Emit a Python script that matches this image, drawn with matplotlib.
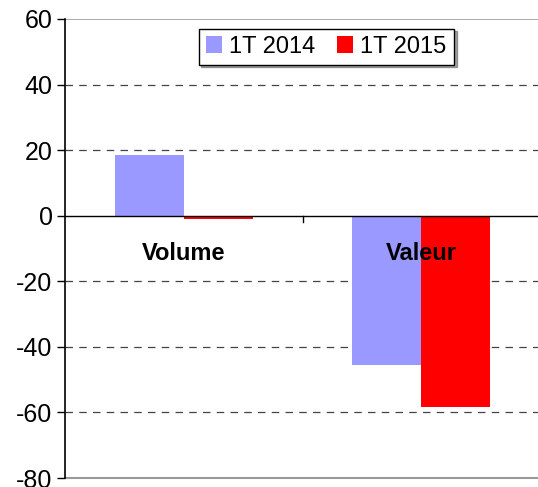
import matplotlib.pyplot as plt
import numpy as np

plt.rcParams['font.family'] = ['Liberation Sans', 'DejaVu Sans']
plt.rcParams['axes.unicode_minus'] = False

categories = ['Volume', 'Valeur']
series_names = ['1T 2014', '1T 2015']
vals_2014 = [18.6, -45.5]
vals_2015 = [-1.0, -58.2]
colors = ['#9999ff', '#ff0000']
yticks = [60, 40, 20, 0, -20, -40, -60, -80]

fig = plt.figure(figsize=(5.38, 4.87), dpi=100)
ax = fig.add_axes([65 / 538, 9 / 487, 475 / 538, 459 / 487])

x = np.arange(len(categories))
w = 0.29
ax.bar(x - w / 2, vals_2014, w, color=colors[0], label=series_names[0], zorder=3)
ax.bar(x + w / 2, vals_2015, w, color=colors[1], label=series_names[1], zorder=3)

ax.set_xlim(-0.5, 1.5)
ax.set_ylim(-80, 60)
ax.set_yticks(yticks)
ax.tick_params(axis='y', labelsize=18, length=6, width=1, direction='out', pad=3)
ax.set_xticks([])

# grid
for y in yticks[1:-1]:
    if y != 0:
        ax.axhline(y, color='#444444', lw=0.9, ls=(0, (6, 5)), zorder=1)
ax.axhline(0, color='black', lw=1, zorder=4)
ax.plot([0.5, 0.5], [0, -1.8], color='black', lw=1, zorder=4)

for s in ['top', 'bottom', 'right']:
    ax.spines[s].set_visible(False)
ax.axhline(60, color='#999999', lw=1.2, zorder=1)
ax.axhline(-80, color='#999999', lw=1.5, zorder=1, clip_on=False)
ax.spines['left'].set_linewidth(1.2)

for xi, name in zip(x, categories):
    ax.text(xi, -11.5, name, ha='center', va='center', fontsize=17,
            fontweight='bold', zorder=5)

leg = ax.legend(loc='upper center', bbox_to_anchor=(0.55, 1.005), ncol=2,
                fontsize=17, frameon=True, fancybox=False, shadow=True,
                handlelength=0.7, handleheight=0.7, handletextpad=0.3,
                columnspacing=0.9, borderpad=0.3)
leg.get_frame().set_edgecolor('black')
leg.get_frame().set_linewidth(1)

fig.savefig('out.png', dpi=100)
